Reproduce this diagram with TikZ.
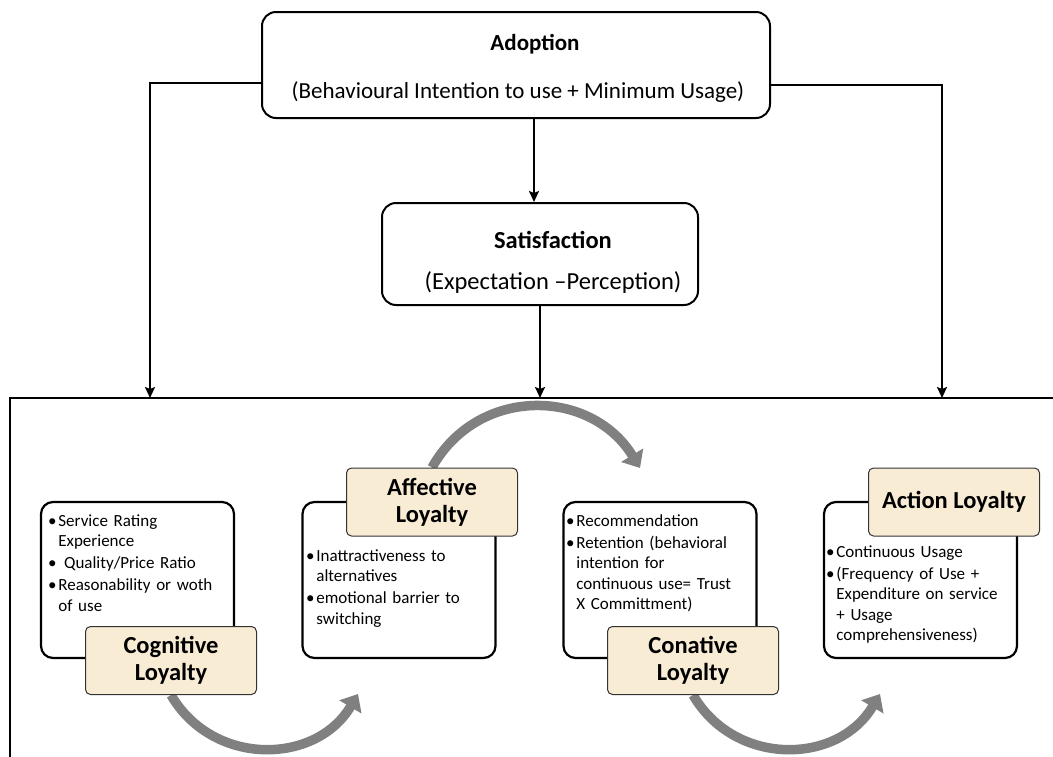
\documentclass[tikz,border=0pt]{standalone}
\usepackage{fontspec}
\setmainfont{Carlito}
\usetikzlibrary{arrows.meta,positioning,backgrounds}

\definecolor{tagfill}{HTML}{F9ECD5}
\definecolor{turngray}{HTML}{808080}

\newcommand{\bpt}[1]{\par\hangindent=0.6em\hangafter=1\noindent\makebox[0.6em][l]{\textbullet}#1\par}

\tikzset{
	headbox/.style={draw, line width=2pt, rounded corners=14pt, fill=white},
	adfont/.style={font=\fontsize{23}{27}\selectfont},
	satfont/.style={font=\fontsize{24.5}{29}\selectfont},
	panel/.style={draw, line width=2.2pt, rounded corners=12pt, fill=white, minimum width=193pt, minimum height=156pt},
	loytag/.style={draw=black!80, line width=1pt, rounded corners=5pt, fill=tagfill, align=center, minimum width=171pt, minimum height=68pt, font=\bfseries\fontsize{24.5}{27}\selectfont},
	bullets/.style={anchor=north west, align=left, inner sep=0pt, text width=200pt, font=\fontsize{17}{20.5}\selectfont\setlength\parskip{1.5pt}},
	flow/.style={line width=1.8pt, -{Stealth[length=11pt,width=10pt,inset=2pt]}},
	outerframe/.style={draw, line width=2pt},
	turnarrow/.style={draw=turngray, line width=9.5pt, -{Triangle[length=15pt,width=25pt]}},
}

\begin{document}
\begin{tikzpicture}[x=1pt,y=-1pt]
	\useasboundingbox (0,0) rectangle (1053,756);
	\clip (0,0) rectangle (1053,756);

	\node[headbox, minimum width=508pt, minimum height=106pt] (adoption) at (516,65) {};
	\node[adfont, font=\bfseries\fontsize{23}{27}\selectfont] (adtitle) at (535,44) {Adoption};
	\node[adfont] (adsub) at (518,92) {(Behavioural Intention to use + Minimum Usage)};

	\node[headbox, minimum width=316pt, minimum height=102pt] (satisfaction) at (540,254) {};
	\node[satfont, font=\bfseries\fontsize{24.5}{29}\selectfont] (sattitle) at (553,240) {Satisfaction};
	\node[satfont] (satsub) at (553,283) {(Expectation –Perception)};

	\coordinate (inL) at (150,398);
	\coordinate (inM) at (540,398);
	\coordinate (inR) at (942,398);

	\draw[flow] ([yshift=-18pt]adoption.west) -| (inL);
	\draw[flow] ([yshift=-20pt]adoption.east) -| (inR);
	\draw[flow] ([xshift=-6pt]satisfaction.north |- adoption.south) -- ([xshift=-6pt]satisfaction.north);
	\draw[flow] (satisfaction.south) -- (inM);

	\node[panel] (cogbox) at (137.5,580) {};
	\node[panel] (affbox) at (399,580) {};
	\node[panel] (conbox) at (660,580) {};
	\node[panel] (actbox) at (920.5,580) {};

	\node[loytag] (cogtag) at (171,660.5) {Cognitive\\Loyalty};
	\node[loytag] (afftag) at (432,502) {Affective\\Loyalty};
	\node[loytag] (contag) at (693,660.5) {Conative\\Loyalty};
	\node[loytag] (acttag) at (954,502) {Action Loyalty};

	\node[bullets] (cogtxt) at (48,504) {%
		\bpt{Service Rating\newline Experience}
		\bpt{\ Quality/Price Ratio}
		\bpt{Reasonability or woth\newline of use}};
	\node[bullets] (afftxt) at (306,539) {%
		\bpt{Inattractiveness to\newline alternatives}
		\bpt{emotional barrier to\newline switching}};
	\node[bullets] (contxt) at (566,504) {%
		\bpt{Recommendation}
		\bpt{Retention (behavioral\newline intention for\newline continuous use= Trust\newline X Committment)}};
	\node[bullets] (acttxt) at (826,535) {%
		\bpt{Continuous Usage}
		\bpt{(Frequency of Use +\newline Expenditure on service\newline + Usage\newline comprehensiveness)}};

	\coordinate (turnA) at (640,468);
	\coordinate (turnB) at (358,694);
	\coordinate (turnC) at (880,694);

	\begin{scope}[on background layer]
		\draw[outerframe] (10,398) rectangle (1070,790);
		\draw[turnarrow] (afftag.north) .. controls +(46,-82) and +(-49,-80) .. (turnA);
		\draw[turnarrow] (cogtag.south) .. controls +(42,72) and +(-42,71) .. (turnB);
		\draw[turnarrow] (contag.south) .. controls +(42,72) and +(-42,71) .. (turnC);
	\end{scope}
\end{tikzpicture}
\end{document}
